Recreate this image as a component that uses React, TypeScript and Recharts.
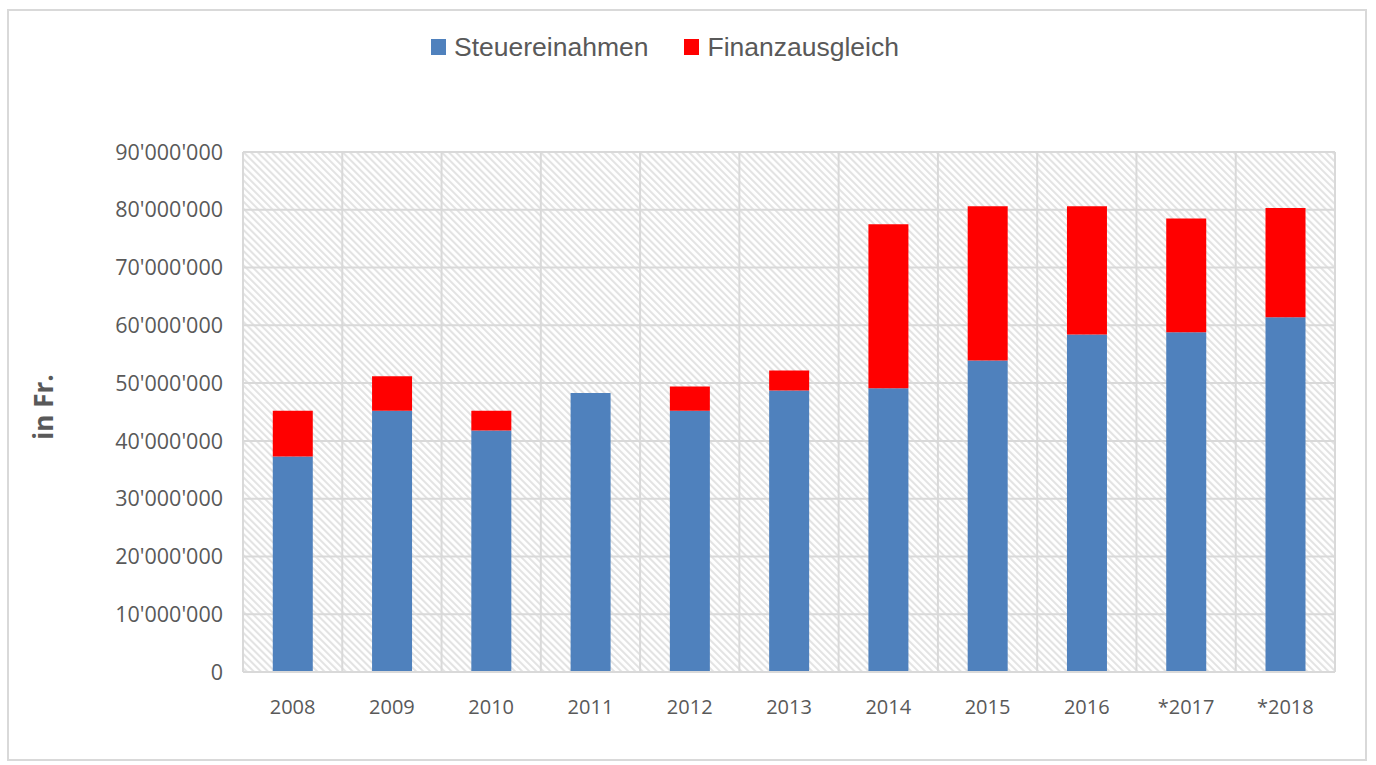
import React from "react"
import { BarChart, Bar, XAxis, YAxis, CartesianGrid, Legend, Label } from "recharts"

const years = ["2008", "2009", "2010", "2011", "2012", "2013", "2014", "2015", "2016", "*2017", "*2018"]
const steuereinahmen = [37300000, 45200000, 41800000, 48300000, 45200000, 48700000, 49100000, 53900000, 58400000, 58800000, 61400000]
const finanzausgleich = [7900000, 6000000, 3400000, 0, 4200000, 3500000, 28400000, 26700000, 22200000, 19700000, 18900000]
const yTicks = [0, 10000000, 20000000, 30000000, 40000000, 50000000, 60000000, 70000000, 80000000, 90000000]

const data = years.map((year, i) => ({
  year,
  Steuereinahmen: steuereinahmen[i],
  Finanzausgleich: finanzausgleich[i],
}))

const BLUE = "#4F81BD"
const RED = "#FF0000"
const TEXT = "#595959"
const GRID = "#d9d9d9"

const formatTick = (v: number) => String(v).replace(/\B(?=(\d{3})+(?!\d))/g, "'")

const LegendContent = () => (
  <div
    style={{
      display: "flex",
      justifyContent: "center",
      alignItems: "center",
      height: 40,
      paddingRight: 44,
      fontFamily: "'Liberation Sans', Arial, sans-serif",
      fontSize: 26.5,
      color: TEXT,
    }}
  >
    {[
      { name: "Steuereinahmen", color: BLUE },
      { name: "Finanzausgleich", color: RED },
    ].map((item) => (
      <span key={item.name} style={{ display: "flex", alignItems: "center", margin: "0 18px" }}>
        <span style={{ width: 15, height: 16, background: item.color, marginRight: 8, display: "inline-block" }} />
        {item.name}
      </span>
    ))}
  </div>
)

const App: React.FC = () => {
  return (
    <div
      style={{
        position: "absolute",
        left: 7,
        top: 9,
        width: 1360,
        height: 752,
        border: `2px solid ${GRID}`,
        boxSizing: "border-box",
        background: "#fff",
      }}
    >
      <svg width={0} height={0} style={{ position: "absolute" }}>
        <defs>
          <pattern id="hatch" width={5} height={5} patternUnits="userSpaceOnUse" patternTransform="rotate(-45)">
            <line x1={1} y1={0} x2={1} y2={5} stroke="#e3e3e3" strokeWidth={2.2} />
          </pattern>
        </defs>
      </svg>
      <BarChart
        width={1356}
        height={748}
        data={data}
        barCategoryGap="30%"
        margin={{ top: 101, right: 30, left: 0, bottom: 0 }}
      >
        <CartesianGrid
          fill="url(#hatch)"
          stroke={GRID}
          strokeWidth={2}
          verticalCoordinatesGenerator={({ offset }: any) =>
            years.map((_, i) => offset.left + (i * offset.width) / years.length).concat(offset.left + offset.width)
          }
        />
        <XAxis
          dataKey="year"
          axisLine={{ stroke: GRID, strokeWidth: 2 }}
          tickLine={false}
          tickSize={0}
          tickMargin={28}
          height={87}
          tick={{ fill: TEXT, fontSize: 20, fontFamily: "'Open Sans', sans-serif" }}
        />
        <YAxis
          width={234}
          domain={[0, 90000000]}
          ticks={yTicks}
          interval={0}
          tickFormatter={formatTick}
          axisLine={false}
          tickLine={false}
          tickSize={0}
          tickMargin={20}
          tick={{ fill: TEXT, fontSize: 21.5, fontFamily: "'Open Sans', sans-serif" }}
        >
          <Label
            content={({ viewBox }: any) => {
              const x = viewBox.x + 34
              const y = viewBox.y + viewBox.height / 2 - 5
              return (
                <text
                  x={x}
                  y={y}
                  transform={`rotate(-90, ${x}, ${y})`}
                  textAnchor="middle"
                  dominantBaseline="central"
                  fill={TEXT}
                  fontSize={26}
                  fontWeight="bold"
                  fontFamily="'Open Sans', sans-serif"
                >
                  in Fr.
                </text>
              )
            }}
          />
        </YAxis>
        <Legend verticalAlign="top" content={<LegendContent />} wrapperStyle={{ top: 16, left: 0, width: 1356, height: 40 }} />
        <Bar dataKey="Steuereinahmen" stackId="a" fill={BLUE} isAnimationActive={false} />
        <Bar dataKey="Finanzausgleich" stackId="a" fill={RED} isAnimationActive={false} />
      </BarChart>
    </div>
  )
}

export default App
